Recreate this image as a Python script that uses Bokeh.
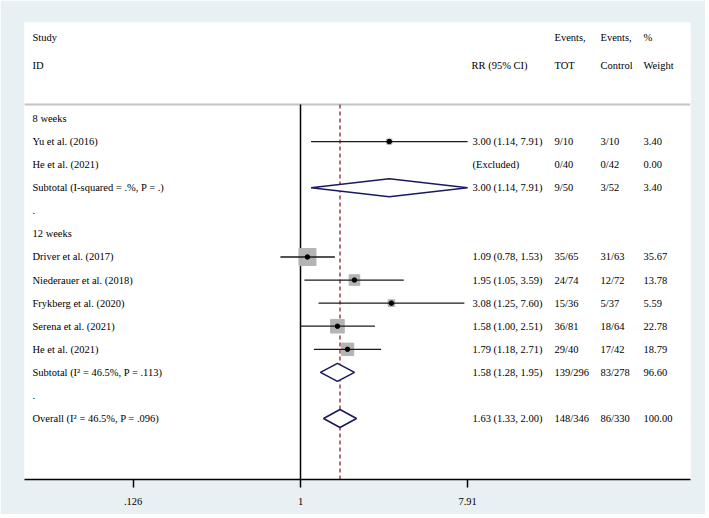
import math
from bokeh.plotting import figure
from bokeh.models import Range1d, FixedTicker, ColumnDataSource
from bokeh.core.properties import value
from bokeh.embed import file_html
from bokeh.resources import INLINE

# ---------------- data ----------------
row_labels = ["8 weeks", "Yu et al. (2016)", "He et al. (2021)",
              "Subtotal  (I-squared = .%, P = .)", ".", "12 weeks",
              "Driver et al. (2017)", "Niederauer et al. (2018)",
              "Frykberg et al. (2020)", "Serena et al.  (2021)",
              "He et al. (2021)", "Subtotal (I\u00b2 = 46.5%, P = .113)", ".",
              "Overall (I\u00b2 = 46.5%, P = .096)"]

study_rows = [1, 2, 6, 7, 8, 9, 10]
study_rr = [3.00, None, 1.09, 1.95, 3.08, 1.58, 1.79]
study_lo = [1.14, None, 0.78, 1.05, 1.25, 1.00, 1.18]
study_hi = [7.91, None, 1.53, 3.59, 7.60, 2.51, 2.71]
study_weight = [3.40, 0.00, 35.67, 13.78, 5.59, 22.78, 18.79]
study_ev_tot = ["9/10", "0/40", "35/65", "24/74", "15/36", "36/81", "29/40"]
study_ev_ctl = ["3/10", "0/42", "31/63", "12/72", "5/37", "18/64", "17/42"]

sum_rows = [3, 11, 13]
sum_rr = [3.00, 1.58, 1.63]
sum_lo = [1.14, 1.28, 1.33]
sum_hi = [7.91, 1.95, 2.00]
sum_weight = [3.40, 96.60, 100.00]
sum_ev_tot = ["9/50", "139/296", "148/346"]
sum_ev_ctl = ["3/52", "83/278", "86/330"]

overall_rr = 1.63
tick_values = [0.126, 1.0, 7.91]
tick_labels = [".126", "1", "7.91"]

# ---------------- layout ----------------
PX0 = 300.0      # page x of RR = 1
PXU = 80.8       # px per ln unit
ROW0 = 118.0     # page y of first row
ROWH = 23.08     # px per row
FL, FR, FT, FB = 24, 690, 22, 479
W, H = 705, 514


def xd(px):
    return math.exp((px - PX0) / PXU)


def yd(py):
    return -(py - ROW0) / ROWH


FONT = value("Liberation Serif")
FS = "10.5px"

p = figure(width=W, height=H, x_axis_type="log",
           x_range=Range1d(xd(FL), xd(FR)), y_range=Range1d(yd(FB), yd(FT)),
           output_backend="svg", toolbar_location=None, y_axis_location=None,
           min_border_left=FL, min_border_right=W - FR,
           min_border_top=FT, min_border_bottom=H - FB)
p.border_fill_color = "#e8f0f3"
p.background_fill_color = "white"
p.outline_line_color = None
p.xgrid.visible = False
p.ygrid.visible = False

ax = p.xaxis[0]
ax.ticker = FixedTicker(ticks=tick_values)
ax.major_label_overrides = {t: l for t, l in zip(tick_values, tick_labels)}
ax.minor_tick_line_color = None
ax.major_tick_in = 0
ax.major_tick_out = 8
ax.major_tick_line_width = 1.5
ax.axis_line_width = 1.5
ax.axis_line_color = "black"
ax.major_label_text_font = "Liberation Serif"
ax.major_label_text_font_size = FS
ax.major_label_text_color = "black"
ax.major_label_standoff = 10

y_head_line = yd(104)
y_bottom = yd(FB)

# header separator
p.segment(x0=[xd(FL)], x1=[xd(FR)], y0=[y_head_line], y1=[y_head_line],
          line_color="#c4c4c4", line_width=2)
# null line
p.segment(x0=[1], x1=[1], y0=[y_head_line], y1=[y_bottom],
          line_color="black", line_width=1.5)
# overall effect line
p.segment(x0=[overall_rr], x1=[overall_rr], y0=[y_head_line], y1=[y_bottom],
          line_color="#a0404a", line_width=1.5, line_dash="4 3")

# study CIs, boxes, points
ci_rows = [r for r, v in zip(study_rows, study_rr) if v is not None]
ci_src = ColumnDataSource(dict(
    y=[-r for r in ci_rows],
    rr=[v for v in study_rr if v is not None],
    lo=[v for v in study_lo if v is not None],
    hi=[v for v in study_hi if v is not None],
    size=[2.85 * math.sqrt(w) for w, v in zip(study_weight, study_rr) if v is not None],
))
p.scatter(x="rr", y="y", size="size", marker="square", source=ci_src,
          fill_color="#b4b4b4", line_color="#b4b4b4")
p.segment(x0="lo", x1="hi", y0="y", y1="y", source=ci_src,
          line_color="#1a1a1a", line_width=1.3)
p.scatter(x="rr", y="y", size=4.5, marker="circle", source=ci_src,
          fill_color="black", line_color="black")

# diamonds
dh = 9 / ROWH
xs, ys = [], []
for r, c, lo, hi in zip(sum_rows, sum_rr, sum_lo, sum_hi):
    xs.append([lo, c, hi, c])
    ys.append([-r, -r + dh, -r, -r - dh])
p.patches(xs=xs, ys=ys, fill_color="white", line_color="#1a1a5e", line_width=1.6)

# text columns
TXT = dict(text_font=FONT, text_font_size=FS, text_color="black",
           text_baseline="middle", text_align="left")

# headers
p.text(x=[xd(32), xd(32)], y=[yd(37), yd(65)], text=["Study", "ID"], **TXT)
p.text(x=[xd(471)], y=[yd(65)], text=["RR (95% CI)"], **TXT)
p.text(x=[xd(554), xd(554)], y=[yd(37), yd(65)], text=["Events,", "TOT"], **TXT)
p.text(x=[xd(600), xd(600)], y=[yd(37), yd(65)], text=["Events,", "Control"], **TXT)
p.text(x=[xd(643), xd(643)], y=[yd(37), yd(65)], text=["%", "Weight"], **TXT)

# row labels
p.text(x=[xd(32)] * len(row_labels), y=[-i for i in range(len(row_labels))],
       text=row_labels, **TXT)

# value columns
rows_all = study_rows + sum_rows
rr_txt = []
for v, lo, hi in zip(study_rr + sum_rr, study_lo + sum_lo, study_hi + sum_hi):
    rr_txt.append("(Excluded)" if v is None else f"{v:.2f} ({lo:.2f}, {hi:.2f})")
w_txt = [f"{w:.2f}" for w in study_weight + sum_weight]
ys_all = [-r for r in rows_all]
p.text(x=[xd(472)] * len(rows_all), y=ys_all, text=rr_txt, **TXT)
p.text(x=[xd(554)] * len(rows_all), y=ys_all, text=study_ev_tot + sum_ev_tot, **TXT)
p.text(x=[xd(600)] * len(rows_all), y=ys_all, text=study_ev_ctl + sum_ev_ctl, **TXT)
p.text(x=[xd(643)] * len(rows_all), y=ys_all, text=w_txt, **TXT)

open("out.html", "w").write(file_html(p, INLINE))
